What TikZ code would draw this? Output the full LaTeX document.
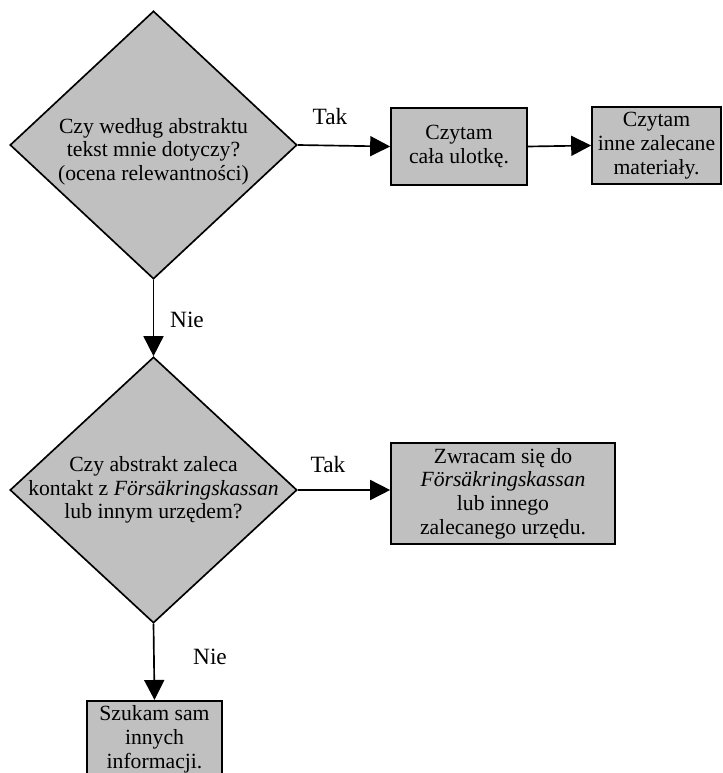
\documentclass[tikz,border=0pt]{standalone}
\usepackage{fontspec}
\setmainfont{Liberation Serif}
\usetikzlibrary{shapes.geometric}
\usetikzlibrary{arrows.meta}
\definecolor{boxgray}{RGB}{192,192,192}

\begin{document}
\begin{tikzpicture}[x=0.6pt,y=-0.6pt,line width=1pt,
	every node/.style={font=\fontsize{13}{14.2}\selectfont},
	decision/.style={diamond,draw=black,fill=boxgray,minimum width=172.2pt,minimum height=160.8pt,inner sep=0},
	action/.style={rectangle,draw=black,fill=boxgray,align=center,inner sep=0},
	lbl/.style={inner sep=0,font=\fontsize{14}{16}\selectfont},
	arr/.style={-{Triangle[length=12pt,width=12pt]}}]
	\useasboundingbox (0,0) rectangle (722,773);
	\clip (0,0) rectangle (722,773);

	%TOP
	\node[decision,label={[align=center,yshift=-4pt]center:Czy według abstraktu\\tekst mnie dotyczy?\\(ocena relewantności)}] (q1) at (153.5,145) {};
	\node[action,minimum width=81.6pt,minimum height=46.2pt] (read) at (459,146.5) {Czytam\\cała ulotkę.};
	\node[action,minimum width=77.4pt,minimum height=46.2pt] (more) at (656.5,145.5) {Czytam\\inne zalecane\\materiały.};
	%
	\draw[arr] (q1.east)--(read.west);
	\draw[arr] (read.east)--(more.west);
	\node[lbl] (yes1) at (330,117) {Tak};

	%MIDDLE
	\node[decision,minimum height=159.6pt,label={[align=center]center:Czy abstrakt zaleca\\kontakt z \textit{Försäkringskassan}\\lub innym urzędem?}] (q2) at (153.5,490) {};
	\node[action,minimum width=134.4pt,minimum height=60.6pt] (office) at (503,493.5) {Zwracam się do\\\textit{Försäkringskassan}\\lub innego\\zalecanego urzędu.};
	%
	\draw[arr] (q1.south)--(q2.north);
	\node[lbl] (no1) at (187,320) {Nie};
	\draw[arr] (q2.east)--(q2.east -| office.west);
	\node[lbl] (yes2) at (328,465) {Tak};

	%BOTTOM
	\node[action,anchor=north,minimum width=81pt,inner ysep=3pt] (self) at (154.5,700) {Szukam sam\\innych\\informacji.};
	\draw[arr] (q2.south)--(self.north);
	\node[lbl] (no2) at (210,657) {Nie};
\end{tikzpicture}
\end{document}
